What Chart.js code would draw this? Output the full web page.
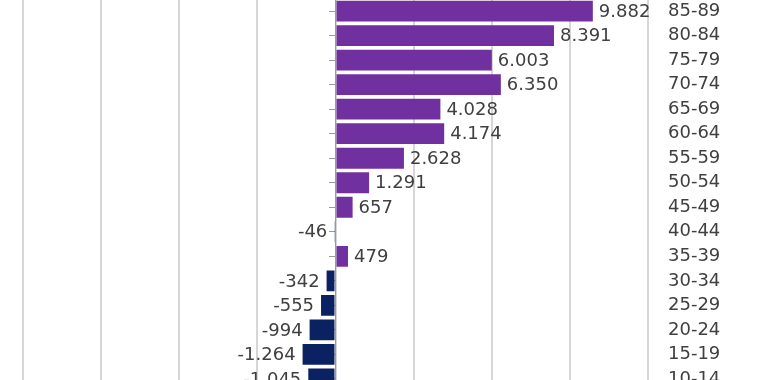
<!DOCTYPE html>
<html>
<head>
<meta charset="utf-8">
<script src="https://cdn.jsdelivr.net/npm/chart.js@4/dist/chart.umd.min.js"></script>
<style>
  html, body { margin: 0; padding: 0; background: #fff; overflow: hidden; }
  #wrap { position: relative; width: 770px; height: 380px; overflow: hidden; }
  #chart { position: absolute; left: 0; top: -32px; }
</style>
</head>
<body>
<div id="wrap"><canvas id="chart" width="770" height="454"></canvas></div>
<script>
// age groups, top to bottom as shown
const ageGroups = ['85-89', '80-84', '75-79', '70-74', '65-69', '60-64', '55-59', '50-54',
                   '45-49', '40-44', '35-39', '30-34', '25-29', '20-24', '15-19', '10-14'];
const change = [9882, 8391, 6003, 6350, 4028, 4174, 2628, 1291,
                657, -46, 479, -342, -555, -994, -1264, -1045];
const axisMin = -12000;
const axisMax = 12000;
const axisStep = 3000;

const labelFont = '18px "DejaVu Sans"';
const textColor = '#404040';

function fmt(v) {
    return (v < 0 ? '-' : '') + String(Math.abs(v)).replace(/\B(?=(\d{3})+(?!\d))/g, '.');
}

// value labels next to bar ends
const valueLabels = {
    id: 'valueLabels',
    afterDatasetsDraw(chart) {
        const ctx = chart.ctx;
        const meta = chart.getDatasetMeta(0);
        ctx.save();
        ctx.font = labelFont;
        ctx.fillStyle = textColor;
        ctx.textBaseline = 'middle';
        meta.data.forEach((bar, i) => {
            const v = change[i];
            if (v >= 0) {
                ctx.textAlign = 'left';
                ctx.fillText(fmt(v), bar.x + 6, bar.y + 1);
            } else {
                ctx.textAlign = 'right';
                ctx.fillText(fmt(v), bar.x - 7, bar.y + 1);
            }
        });
        ctx.restore();
    }
};

new Chart(document.getElementById('chart').getContext('2d'), {
    type: 'bar',
    data: {
        labels: ageGroups,
        datasets: [{
            data: change,
            backgroundColor: change.map(v => v >= 0 ? '#7030a0' : '#0a2162'),
            barPercentage: 0.85,
            categoryPercentage: 1
        }]
    },
    options: {
        indexAxis: 'y',
        responsive: false,
        animation: false,
        layout: { padding: { left: 23, right: 0, top: 5, bottom: 0 } },
        plugins: { legend: { display: false }, tooltip: { enabled: false } },
        scales: {
            x: {
                min: axisMin,
                max: axisMax,
                ticks: { display: false, stepSize: axisStep },
                grid: { color: '#d6d6d6', lineWidth: 2, drawTicks: false },
                border: { display: false }
            },
            y: {
                position: 'right',
                ticks: { color: textColor, font: { family: 'DejaVu Sans', size: 18 }, padding: 20 },
                grid: { display: false, drawTicks: false },
                border: { display: false },
                afterFit(scale) { scale.width = 122; }
            },
            // axis line with tick marks at zero
            zeroAxis: {
                type: 'category',
                axis: 'y',
                labels: ageGroups,
                position: { x: 0 },
                offset: true,
                z: 1,
                ticks: { display: false },
                grid: { drawOnChartArea: false, offset: false, tickLength: 6, color: '#9a9a9a' },
                border: { color: '#9a9a9a', width: 1 }
            }
        }
    },
    plugins: [valueLabels]
});
</script>
</body>
</html>
